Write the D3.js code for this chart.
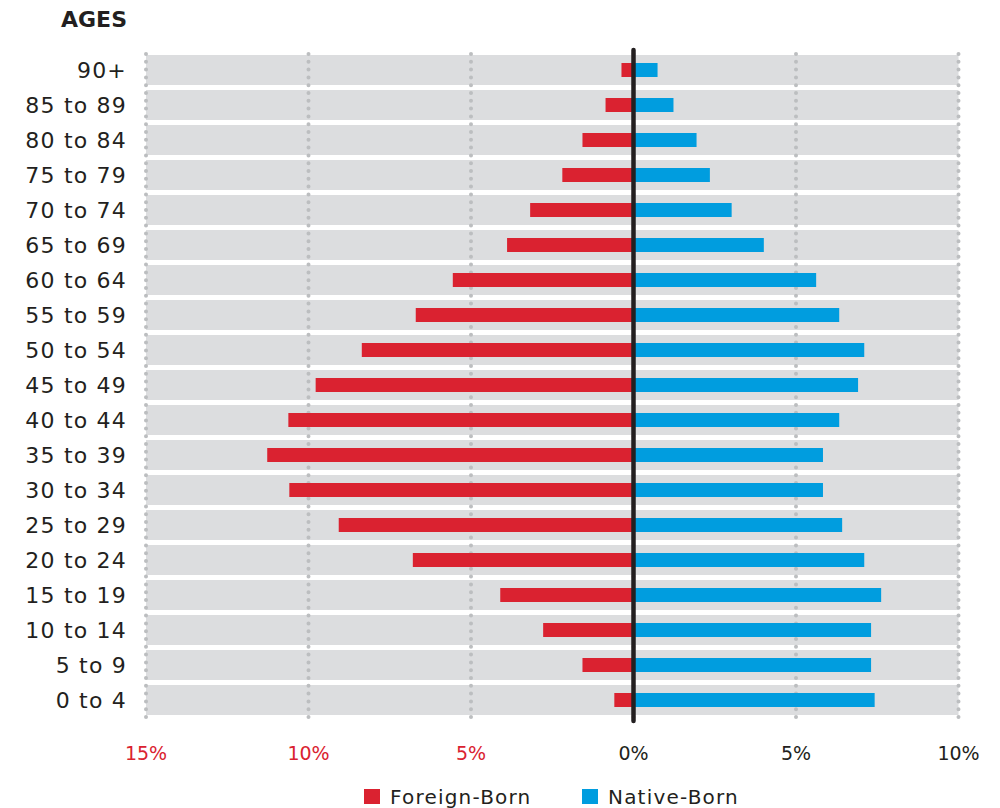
<!DOCTYPE html>
<html>
<head>
<meta charset="utf-8">
<script src="https://cdn.jsdelivr.net/npm/d3@7"></script>
<style>
  body { margin: 0; background: #fff; }
  text { font-family: "DejaVu Sans", sans-serif; }
</style>
</head>
<body>
<script>
// age groups, top to bottom
let ages = ['90+', '85 to 89', '80 to 84', '75 to 79', '70 to 74', '65 to 69',
  '60 to 64', '55 to 59', '50 to 54', '45 to 49', '40 to 44', '35 to 39',
  '30 to 34', '25 to 29', '20 to 24', '15 to 19', '10 to 14', '5 to 9', '0 to 4']

// share of population, %
let foreignBorn = [0.37, 0.86, 1.57, 2.19, 3.18, 3.89, 5.56, 6.70, 8.36, 9.78,
  10.62, 11.27, 10.59, 9.07, 6.79, 4.10, 2.78, 1.57, 0.59]
let nativeBorn = [0.74, 1.23, 1.94, 2.35, 3.02, 4.01, 5.62, 6.33, 7.10, 6.91,
  6.33, 5.83, 5.83, 6.42, 7.10, 7.62, 7.31, 7.31, 7.42]

let tickValues = [-15, -10, -5, 0, 5, 10]
let tickLabels = ['15%', '10%', '5%', '0%', '5%', '10%']

let legendItems = ['Foreign-Born', 'Native-Born']

let red = '#da2230', blue = '#009ddf', ink = '#231f20'

let width = 1000, height = 808

let svg = d3.select('body').append('svg')
  .attr('width', width)
  .attr('height', height)

let x = d3.scaleLinear().domain([-15, 10]).range([146, 958.5])
let y = d3.scaleBand().domain(ages).range([55, 715]).paddingInner(1 / 7).paddingOuter(0)

let rows = ages.map((a, i) => ({ age: a, f: foreignBorn[i], n: nativeBorn[i] }))

// gray row bands
svg.append('g').selectAll('rect').data(rows).enter()
  .append('rect')
  .attr('x', x(-15))
  .attr('width', x(10) - x(-15))
  .attr('y', d => y(d.age))
  .attr('height', y.bandwidth())
  .attr('fill', '#dcdddf')

// dotted gridlines
svg.append('g').selectAll('line').data(tickValues).enter()
  .append('line')
  .attr('x1', d => x(d)).attr('x2', d => x(d))
  .attr('y1', 54).attr('y2', 721)
  .attr('stroke', '#bcbec0')
  .attr('stroke-width', 4)
  .attr('stroke-linecap', 'round')
  .attr('stroke-dasharray', '0 7.8')

let barH = 14
let barY = d => y(d.age) + (y.bandwidth() - barH) / 2

svg.append('g').selectAll('rect').data(rows).enter()
  .append('rect')
  .attr('x', d => x(-d.f))
  .attr('width', d => x(0) - x(-d.f))
  .attr('y', barY)
  .attr('height', barH)
  .attr('fill', red)

svg.append('g').selectAll('rect').data(rows).enter()
  .append('rect')
  .attr('x', x(0))
  .attr('width', d => x(d.n) - x(0))
  .attr('y', barY)
  .attr('height', barH)
  .attr('fill', blue)

// zero line
svg.append('line')
  .attr('x1', x(0)).attr('x2', x(0))
  .attr('y1', 50).attr('y2', 721)
  .attr('stroke', ink)
  .attr('stroke-width', 4.5)
  .attr('stroke-linecap', 'round')

// age labels
svg.append('g').selectAll('text').data(ages).enter()
  .append('text')
  .attr('x', 127)
  .attr('y', d => y(d) + y.bandwidth() / 2)
  .attr('dy', '0.36em')
  .attr('text-anchor', 'end')
  .attr('font-size', 22)
  .attr('letter-spacing', 1.2)
  .attr('fill', ink)
  .text(d => d)

svg.append('text')
  .attr('x', 127).attr('y', 27)
  .attr('text-anchor', 'end')
  .attr('font-size', 22)
  .attr('font-weight', 'bold')
  .attr('fill', ink)
  .text('AGES')

// x tick labels
svg.append('g').selectAll('text').data(tickValues).enter()
  .append('text')
  .attr('x', d => x(d))
  .attr('y', 760)
  .attr('text-anchor', 'middle')
  .attr('font-size', 19)
  .attr('fill', d => d < 0 ? red : ink)
  .text((d, i) => tickLabels[i])

// legend
let legend = svg.append('g').selectAll('g').data(legendItems).enter()
  .append('g')
  .attr('transform', (d, i) => `translate(${[364, 582][i]},789)`)
legend.append('rect')
  .attr('width', 16).attr('height', 15)
  .attr('fill', (d, i) => [red, blue][i])
legend.append('text')
  .attr('x', 26).attr('y', 15)
  .attr('font-size', 20)
  .attr('letter-spacing', 1.2)
  .attr('fill', ink)
  .text(d => d)
</script>
</body>
</html>
